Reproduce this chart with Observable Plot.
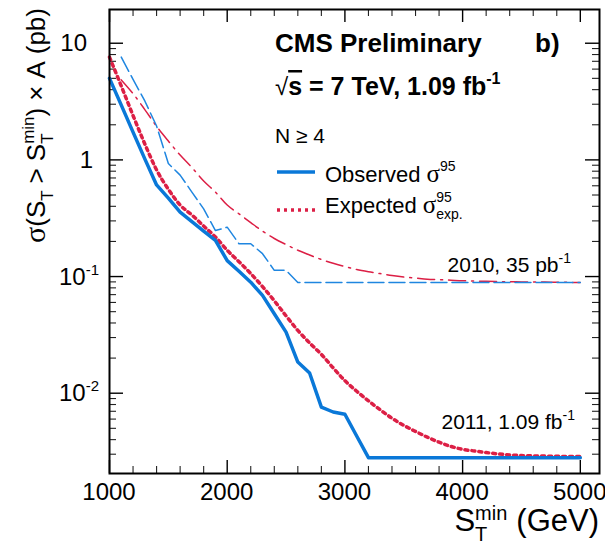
<!DOCTYPE html>
<html><head><meta charset="utf-8">
<script src="https://cdn.jsdelivr.net/npm/d3@7"></script>
<script src="https://cdn.jsdelivr.net/npm/@observablehq/plot@0.6"></script>
<style>body{margin:0;background:#fff} svg{display:block}</style>
</head><body><div id="chart"></div>
<script>
// ---- data ----
const stMin2011 = [1000,1100,1200,1300,1400,1500,1600,1700,1800,1900,2000,2100,2200,2300,2400,2500,2600,2700,2800,2900,3000,3100,3200,3300,3400,3500,3600,3700,3800,3900,4000,4100,4200,4300,4400,4500,4600,4700,4800,4900,5000];
const observed2011 = [5.0,2.95,1.73,1.02,0.61,0.47,0.356,0.296,0.245,0.204,0.137,0.111,0.0895,0.0689,0.048,0.0334,0.0185,0.0149,0.0076,0.0069,0.0066,0.0043,0.0028,0.0028,0.0028,0.0028,0.0028,0.0028,0.0028,0.0028,0.0028,0.0028,0.0028,0.0028,0.0028,0.0028,0.0028,0.0028,0.0028,0.0028,0.0028];
const expected2011 = [7.6,4.3,2.4,1.37,0.82,0.56,0.41,0.337,0.271,0.218,0.168,0.134,0.106,0.082,0.062,0.046,0.0345,0.027,0.0215,0.0165,0.0128,0.0104,0.0086,0.0072,0.0061,0.0053,0.0047,0.0042,0.0038,0.0035,0.0033,0.0032,0.0031,0.00302,0.00296,0.00292,0.0029,0.00289,0.00288,0.00287,0.00287];
const stMin2010 = [1100,1200,1300,1400,1500,1600,1700,1800,1900,2000,2100,2200,2300,2400,2500,2600,2700,2800,2900,3000,3100,3200,3300,3400,3500,3600,3700,3800,3900,4000,4100,4200,4300,4400,4500,4600,4700,4800,4900,5000];
const observed2010 = [7.6,4.9,3.2,1.95,0.93,0.74,0.53,0.38,0.248,0.265,0.191,0.191,0.157,0.113,0.113,0.089,0.089,0.089,0.089,0.089,0.089,0.089,0.089,0.089,0.089,0.089,0.089,0.089,0.089,0.089,0.089,0.089,0.089,0.089,0.089,0.089,0.089,0.089,0.089,0.089];
const expected2010 = [4.85,3.7,2.7,1.94,1.45,1.1,0.86,0.66,0.53,0.41,0.345,0.29,0.245,0.212,0.188,0.168,0.153,0.14,0.13,0.122,0.115,0.11,0.106,0.102,0.099,0.097,0.095,0.094,0.093,0.092,0.0915,0.091,0.0905,0.0902,0.09,0.0898,0.0896,0.0894,0.0892,0.089];
const xTickValues = [1000,2000,3000,4000,5000];
const yTickValues = [10,1,0.1,0.01];
const yTickLabels = [["10",""],["1",""],["10","-1"],["10","-2"]];

const SANS = "'Liberation Sans', Arial, Helvetica, sans-serif";
const SERIF = "'Liberation Serif', 'Times New Roman', serif";
const BLUE = "#0a78d8", BLUE2 = "#1f86e0", RED = "#dc1f45";
const DOTS = "3,4";

const rows = (xs, ys) => xs.map((x, i) => ({x, y: ys[i]}));

const W = 605, H = 545, mL = 109, mR = 6, mT = 9, mB = 72;
const plotH = H - mT - mB, plotW = W - mL - mR;

const xMinor = d3.range(1200, 5001, 200).filter(v => v % 1000 !== 0);
const yMinor = [];
for (let e = -3; e <= 1; e++) for (let m = 2; m <= 9; m++) { const v = m * 10 ** e; if (v > 0.00205 && v < 19.4) yMinor.push(v); }

const chart = Plot.plot({
  width: W, height: H,
  marginLeft: mL, marginRight: mR, marginTop: mT, marginBottom: mB,
  x: {domain: [1000, 5163], axis: null},
  y: {type: "log", domain: [0.00205, 19.46], axis: null},
  style: {background: "white", fontFamily: SANS},
  marks: [
    // ticks inside the frame (ROOT style)
    Plot.tickX(xTickValues, {x: d => d, insetTop: plotH - 13, stroke: "black", strokeWidth: 1.4}),
    Plot.tickX(xTickValues, {x: d => d, insetBottom: plotH - 13, stroke: "black", strokeWidth: 1.4}),
    Plot.tickX(xMinor, {x: d => d, insetTop: plotH - 7, stroke: "#222", strokeWidth: 1.1}),
    Plot.tickX(xMinor, {x: d => d, insetBottom: plotH - 7, stroke: "#222", strokeWidth: 1.1}),
    Plot.tickY(yTickValues, {y: d => d, insetRight: plotW - 14, stroke: "black", strokeWidth: 1.4}),
    Plot.tickY(yTickValues, {y: d => d, insetLeft: plotW - 14, stroke: "black", strokeWidth: 1.4}),
    Plot.tickY(yMinor, {y: d => d, insetRight: plotW - 7, stroke: "#222", strokeWidth: 1.1}),
    Plot.tickY(yMinor, {y: d => d, insetLeft: plotW - 7, stroke: "#222", strokeWidth: 1.1}),
    // 2010 curves
    Plot.line(rows(stMin2010, expected2010), {x: "x", y: "y", stroke: RED, strokeWidth: 1.5, strokeDasharray: "17,6,2,6", curve: "monotone-x"}),
    Plot.line(rows(stMin2010, observed2010), {x: "x", y: "y", stroke: BLUE2, strokeWidth: 1.5, strokeDasharray: "16,5"}),
    // 2011 curves
    Plot.line(rows(stMin2011, expected2011), {x: "x", y: "y", stroke: RED, strokeWidth: 3.5, strokeDasharray: DOTS, curve: "monotone-x"}),
    Plot.line(rows(stMin2011, observed2011), {x: "x", y: "y", stroke: BLUE, strokeWidth: 3.5, strokeLinejoin: "round"}),
    Plot.frame({stroke: "black", strokeWidth: 2})
  ]
});
document.getElementById("chart").appendChild(chart);
const svg = d3.select(chart);
const xs = chart.scale("x"), ys = chart.scale("y");

// rich text helper: segments laid out left to right, measured in the browser
function rich(segs, {x = 0, y = 0, anchor = "start", size = 20, weight = "normal", family = SANS, rotate = 0} = {}) {
  const g = svg.append("g").attr("text-anchor", "start");
  let cursor = 0, prevStart = 0, prevEnd = 0;
  for (const s of segs) {
    const t = g.append("text")
      .attr("text-anchor", "start")
      .style("text-anchor", "start")
      .style("font-size", (s.size ?? size) + "px")
      .style("font-family", s.family ?? family)
      .style("font-weight", s.weight ?? weight)
      .style("fill", "black")
      .attr("y", s.dy ?? 0)
      .text(s.text);
    if (s.deco) t.style("text-decoration", s.deco);
    const start = s.stack ? prevStart : cursor + (s.gap ?? 0);
    t.attr("x", start);
    const w = t.node().getComputedTextLength();
    const end = start + w;
    cursor = s.stack ? Math.max(prevEnd, end) : end;
    prevStart = start; prevEnd = end;
  }
  const shift = anchor === "end" ? -cursor : anchor === "middle" ? -cursor / 2 : 0;
  g.attr("transform", `translate(${x},${y}) rotate(${rotate}) translate(${shift},0)`);
  return g;
}

// x tick labels
for (const v of xTickValues) rich([{text: String(v)}], {x: xs.apply(v), y: 500, size: 24, anchor: "middle"});
// y tick labels
yTickValues.forEach((v, i) => {
  const [base, exp] = yTickLabels[i];
  const segs = [{text: base}];
  if (exp) segs.push({text: exp, size: 15, dy: -10});
  const yy = ys.apply(v) + 8.5;
  if (exp) rich(segs, {x: 59, y: yy, size: 24});
  else rich(segs, {x: v === 1 ? 93 : 87, y: yy, size: 24, anchor: "end"});
});

// axis titles
rich([
  {text: "S"},
  {text: "T", size: 20, dy: 10},
  {text: "min", size: 20, dy: -11, stack: true},
  {text: "(GeV)", gap: 9}
], {x: 599, y: 531, size: 31, anchor: "end"});

rich([
  {text: "σ", family: SERIF, size: 30},
  {text: "(S"},
  {text: "T", size: 17, dy: 8},
  {text: ">", gap: 7},
  {text: "S", gap: 7},
  {text: "T", size: 17, dy: 8},
  {text: "min", size: 17, dy: -11, stack: true},
  {text: ")"},
  {text: "×", gap: 7},
  {text: "A", gap: 7},
  {text: "(pb)", gap: 7}
], {x: 45, y: 8, size: 26, anchor: "end", rotate: -90});

// header texts
rich([{text: "CMS Preliminary"}], {x: 275, y: 52, size: 26, weight: "bold"});
rich([{text: "b)"}], {x: 535, y: 52, size: 26, weight: "bold"});
rich([
  {text: "√", weight: "normal", size: 24},
  {text: "s", deco: "overline"},
  {text: "= 7 TeV, 1.09 fb", gap: 7},
  {text: "-1", size: 16, dy: -11}
], {x: 275, y: 95, size: 25, weight: "bold"});
rich([{text: "N ≥ 4"}], {x: 275, y: 143, size: 21});

// legend
svg.append("line").attr("x1", 277).attr("x2", 315).attr("y1", 172).attr("y2", 172)
  .attr("stroke", BLUE).attr("stroke-width", 3.5);
svg.append("line").attr("x1", 277).attr("x2", 315).attr("y1", 210).attr("y2", 210)
  .attr("stroke", RED).attr("stroke-width", 3.5).attr("stroke-dasharray", DOTS);
rich([
  {text: "Observed"},
  {text: "σ", family: SERIF, size: 25, gap: 6},
  {text: "95", size: 14, dy: -11}
], {x: 325, y: 182, size: 22});
rich([
  {text: "Expected"},
  {text: "σ", family: SERIF, size: 25, gap: 6},
  {text: "95", size: 14, dy: -11},
  {text: "exp.", size: 14, dy: 6, stack: true}
], {x: 325, y: 213, size: 22});

// curve annotations
rich([{text: "2010, 35 pb"}, {text: "-1", size: 14, dy: -9}], {x: 571, y: 271.5, size: 21, anchor: "end"});
rich([{text: "2011, 1.09 fb"}, {text: "-1", size: 14, dy: -9}], {x: 575, y: 429, size: 21, anchor: "end"});
</script>
</body></html>
